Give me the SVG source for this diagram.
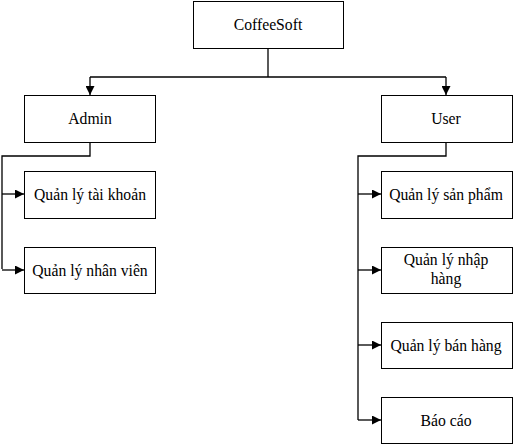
<svg xmlns="http://www.w3.org/2000/svg" width="513" height="445" viewBox="0 0 513 445">
<defs>
<marker id="arr" markerWidth="9" markerHeight="9" refX="9" refY="4.5" orient="auto" markerUnits="userSpaceOnUse"><path d="M0,0 L9,4.5 L0,9 Z" fill="#000"/></marker>
<style>
.box{fill:#fff;stroke:#000;stroke-width:1}
.lbl{font-family:'Times New Roman','Liberation Serif',Tinos,'Noto Serif','DejaVu Serif',serif;font-size:15.7px;fill:#000;text-anchor:middle}
.ln{fill:none;stroke:#000;stroke-width:1.3}
</style>
</defs>
<rect width="513" height="445" fill="#fff"/>
<g id="connectors">
<path class="ln" d="M268,48 V77"/>
<path class="ln" d="M90,77 H446"/>
<path class="ln" d="M90,77 V95" marker-end="url(#arr)"/>
<path class="ln" d="M446,77 V95" marker-end="url(#arr)"/>
<path class="ln" d="M90,142 V156 H2 V269"/>
<path class="ln" d="M2,194 H24" marker-end="url(#arr)"/>
<path class="ln" d="M2,270 H24" marker-end="url(#arr)"/>
<path class="ln" d="M446,142 V156 H358 V420"/>
<path class="ln" d="M358,194 H381" marker-end="url(#arr)"/>
<path class="ln" d="M358,270 H381" marker-end="url(#arr)"/>
<path class="ln" d="M358,345 H381" marker-end="url(#arr)"/>
<path class="ln" d="M358,420 H381" marker-end="url(#arr)"/>
</g>
<g id="coffeesoft"><rect class="box" x="193.5" y="1.5" width="150" height="47"/><text class="lbl" x="268" y="30">CoffeeSoft</text></g>
<g id="admin"><rect class="box" x="24.5" y="95.5" width="131" height="47"/><text class="lbl" x="90" y="124">Admin</text></g>
<g id="user"><rect class="box" x="381.5" y="95.5" width="131" height="47"/><text class="lbl" x="446" y="124">User</text></g>
<g id="qltk"><rect class="box" x="24.5" y="171.5" width="131" height="47"/><text class="lbl" x="90" y="200">Quản lý tài khoản</text></g>
<g id="qlnv"><rect class="box" x="24.5" y="247.5" width="131" height="46"/><text class="lbl" x="90" y="276">Quản lý nhân viên</text></g>
<g id="qlsp"><rect class="box" x="381.5" y="171.5" width="131" height="47"/><text class="lbl" x="446" y="200">Quản lý sản phẩm</text></g>
<g id="qlnh"><rect class="box" x="381.5" y="247.5" width="131" height="46"/><text class="lbl" x="446" y="265">Quản lý nhập</text><text class="lbl" x="446" y="284">hàng</text></g>
<g id="qlbh"><rect class="box" x="381.5" y="322.5" width="131" height="46"/><text class="lbl" x="446" y="351">Quản lý bán hàng</text></g>
<g id="baocao"><rect class="box" x="381.5" y="397.5" width="131" height="46"/><text class="lbl" x="446" y="426">Báo cáo</text></g>
</svg>
